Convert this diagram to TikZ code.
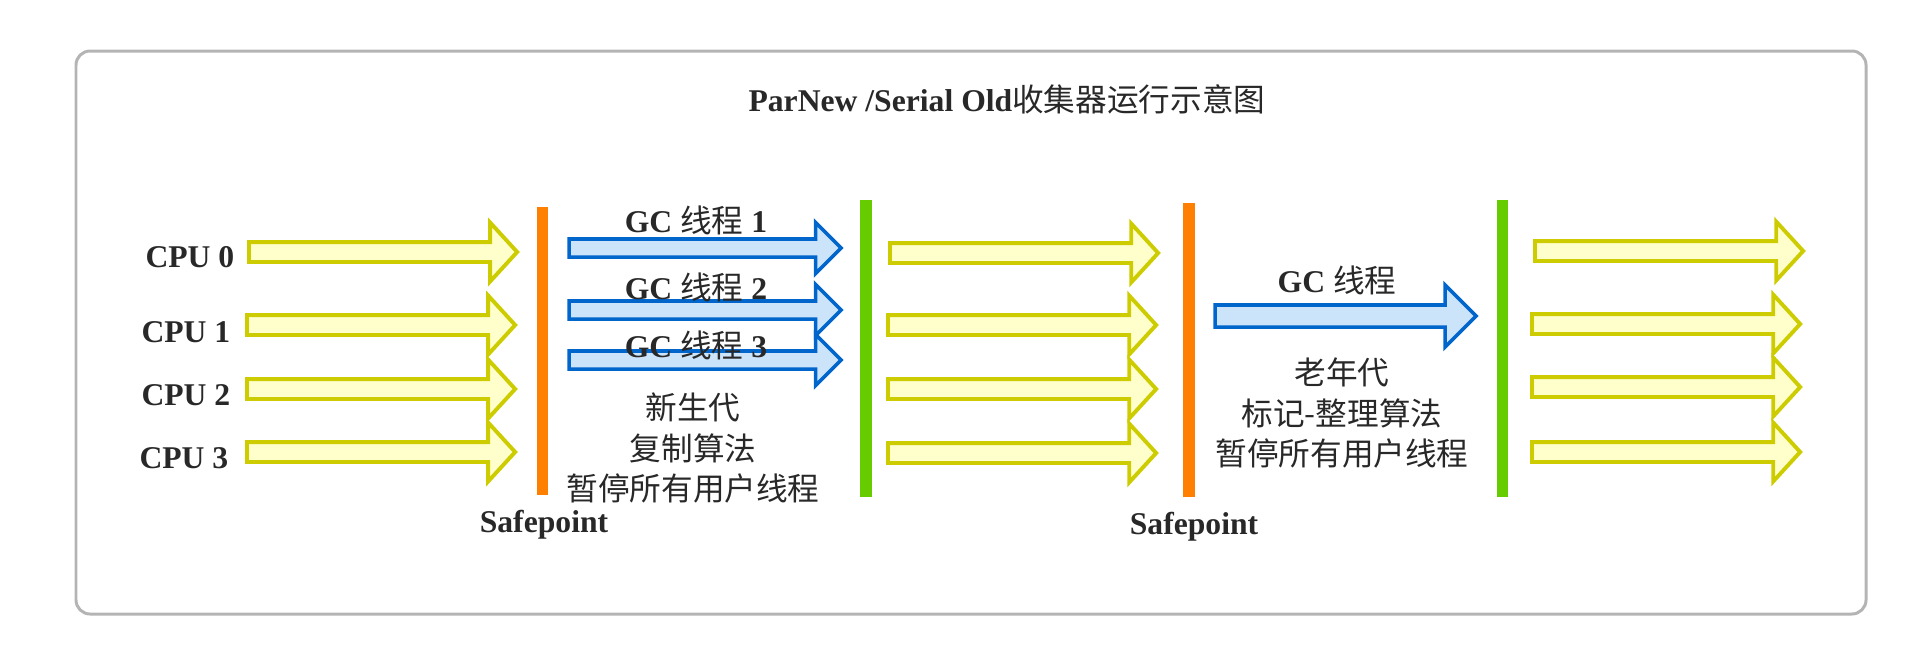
\documentclass[tikz,border=0pt]{standalone}
\usepackage{fontspec}
\setmainfont{Liberation Serif}
\newfontfamily\cjk{Noto Sans CJK SC}
\usepackage{xcolor}
\usepackage{tikz}
\usetikzlibrary{shapes.arrows}
\definecolor{txtdark}{RGB}{40,40,40}
\definecolor{boxgray}{RGB}{180,180,180}
\definecolor{cpuline}{RGB}{204,204,0}
\definecolor{cpufill}{RGB}{255,255,204}
\definecolor{gcline}{RGB}{0,102,204}
\definecolor{gcfill}{RGB}{204,228,250}
\definecolor{sporange}{RGB}{255,128,0}
\definecolor{spgreen}{RGB}{102,204,0}
\newcommand{\zh}[1]{{\cjk\mdseries #1}}
\tikzset{
  outerbox/.style={draw=boxgray, line width=0.85pt, rounded corners=4pt},
  cpuarrow/.style={single arrow, draw=cpuline, fill=cpufill, line width=1.1pt, inner xsep=0pt, inner ysep=0.08cm, outer sep=0pt, single arrow head extend=0.195cm, single arrow tip angle=95, single arrow head indent=0pt, minimum height=2.68cm, anchor=tail},
  gcarrow/.style={single arrow, draw=gcline, fill=gcfill, line width=1pt, inner xsep=0pt, inner ysep=0.0725cm, outer sep=0pt, single arrow head extend=0.165cm, single arrow tip angle=90, single arrow head indent=0pt, minimum height=2.72cm, anchor=tail},
  bar/.style={rectangle, inner sep=0pt, minimum width=0.115cm},
  lbl/.style={text=txtdark, font=\fontsize{9}{10}\selectfont\bfseries, inner sep=0pt},
  cjknote/.style={text=txtdark, font=\fontsize{9}{11.4}\selectfont\cjk, align=center, inner sep=0pt}
}

\begin{document}
\begin{tikzpicture}[x=0.01cm, y=-0.01cm]
  \useasboundingbox (0,0) rectangle (1916,666);
  \draw [outerbox] (76,51) rectangle (1866,614);
  \node [lbl] (title) at (1007,99) {ParNew /Serial Old\zh{收集器运行示意图}};

  % CPU rows (Left)
  \node [lbl, anchor=east] (cpu0) at (235,257) {CPU 0};
  \node [lbl, anchor=east] (cpu1) at (231,332) {CPU 1};
  \node [lbl, anchor=east] (cpu2) at (231,395) {CPU 2};
  \node [lbl, anchor=east] (cpu3) at (229,458) {CPU 3};
  \node [cpuarrow] (in0) at (249,252) {};
  \node [cpuarrow] (in1) at (247,325) {};
  \node [cpuarrow] (in2) at (247,389) {};
  \node [cpuarrow] (in3) at (247,452) {};

  % Young generation, parallel GC threads
  \node [bar, fill=sporange, minimum height=2.88cm] (sp1) at (542.5,351) {};
  \node [lbl] (sp1lbl) at (544,525) {Safepoint};
  \node [gcarrow] (gc1) at (569,248) {};
  \node [gcarrow] (gc2) at (569,310) {};
  \node [gcarrow] (gc3) at (569,360) {};
  \node [lbl] (gc1lbl) at (696,220) {GC \zh{线程} 1};
  \node [lbl] (gc2lbl) at (696,287) {GC \zh{线程} 2};
  \node [lbl] (gc3lbl) at (696,345) {GC \zh{线程} 3};
  \node [cjknote] (young) at (693,448) {新生代\\复制算法\\暂停所有用户线程};
  \node [bar, fill=spgreen, minimum height=2.97cm] (end1) at (866,348.5) {};

  % User threads resume (Middle)
  \node [cpuarrow] (mid0) at (890,253) {};
  \node [cpuarrow] (mid1) at (888,325) {};
  \node [cpuarrow] (mid2) at (888,389) {};
  \node [cpuarrow] (mid3) at (888,453) {};

  % Old generation, single GC thread
  \node [bar, fill=sporange, minimum height=2.94cm] (sp2) at (1189,350) {};
  \node [lbl] (sp2lbl) at (1194,527) {Safepoint};
  \node [gcarrow, inner ysep=0.0925cm, single arrow head extend=0.2cm, minimum height=2.61cm] (gcold) at (1215,316) {};
  \node [lbl] (gcoldlbl) at (1337,280) {GC \zh{线程}};
  \node [cjknote] (old) at (1342,413) {老年代\\标记-整理算法\\暂停所有用户线程};
  \node [bar, fill=spgreen, minimum height=2.97cm] (end2) at (1502.5,348.5) {};

  % User threads resume (Right)
  \node [cpuarrow] (out0) at (1535,251) {};
  \node [cpuarrow] (out1) at (1532,324) {};
  \node [cpuarrow] (out2) at (1532,387) {};
  \node [cpuarrow] (out3) at (1532,452) {};
\end{tikzpicture}
\end{document}
